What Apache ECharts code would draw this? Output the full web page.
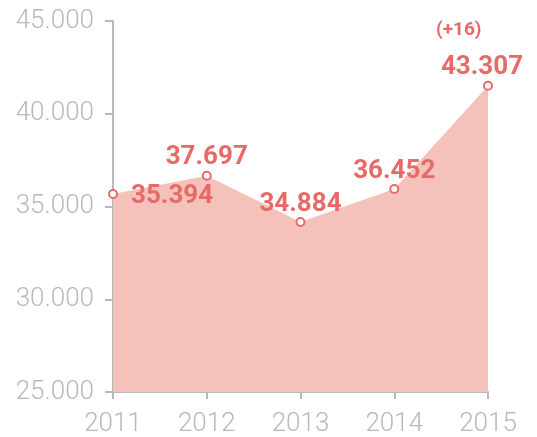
<!DOCTYPE html>
<html>
<head>
<meta charset="utf-8">
<script src="https://cdn.jsdelivr.net/npm/echarts@6/dist/echarts.min.js"></script>
<style>
  html, body { margin: 0; padding: 0; background: #fff; }
  #main { width: 537px; height: 437px; }
</style>
</head>
<body>
<div id="main"></div>
<script>
// years on the x axis
var years = ['2011', '2012', '2013', '2014', '2015'];
// where the points sit in the picture
var values = [35670, 36660, 34160, 35940, 41510];
// numbers printed next to the points
var valueLabels = ['35.394', '37.697', '34.884', '36.452', '43.307'];
var note = '(+16)';

var red = '#e76a69';
var grey = '#b9b9b9';

var myChart = echarts.init(document.getElementById('main'));

var labelSetup = [
  { position: 'right', distance: 13, offset: [0, 2] },
  { position: 'top', distance: 0 },
  { position: 'top', distance: 0 },
  { position: 'top', distance: 0 },
  { position: 'top', distance: 0, offset: [-6, 0] }
];

var option = {
  animation: false,
  grid: { left: 113, right: 49, top: 21, bottom: 45 },
  xAxis: {
    type: 'category',
    data: years,
    boundaryGap: false,
    axisLine: { lineStyle: { color: grey, width: 2 } },
    axisTick: { show: true, length: 7, lineStyle: { color: grey, width: 2 } },
    axisLabel: {
      color: grey, fontSize: 26, fontFamily: 'Roboto', fontWeight: 300, margin: 19
    },
    splitLine: { show: false }
  },
  yAxis: {
    type: 'value',
    min: 25000,
    max: 45000,
    interval: 5000,
    axisLine: { show: true, lineStyle: { color: grey, width: 2 } },
    axisTick: { show: true, length: 8, lineStyle: { color: grey, width: 2 } },
    axisLabel: {
      color: grey, fontSize: 26, fontFamily: 'Roboto', fontWeight: 300, margin: 19,
      formatter: function (v) { return (v / 1000).toFixed(3); }
    },
    splitLine: { show: false }
  },
  series: [{
    type: 'line',
    data: values.map(function (v, i) {
      return {
        value: v,
        label: labelSetup[i]
      };
    }),
    symbol: 'circle',
    symbolSize: 8,
    itemStyle: { color: '#fff', borderColor: red, borderWidth: 2 },
    lineStyle: { width: 0 },
    areaStyle: { color: '#f4c2bb', opacity: 1 },
    label: {
      show: true,
      color: red,
      fontSize: 26,
      fontWeight: 'bold',
      fontFamily: 'Roboto',
      formatter: function (p) { return valueLabels[p.dataIndex]; }
    },
    z: 3
  }],
  graphic: [{
    type: 'text',
    left: 436,
    top: 21,
    style: { text: note, fill: red, font: 'bold 19px Roboto' }
  }]
};

myChart.setOption(option);
</script>
</body>
</html>
